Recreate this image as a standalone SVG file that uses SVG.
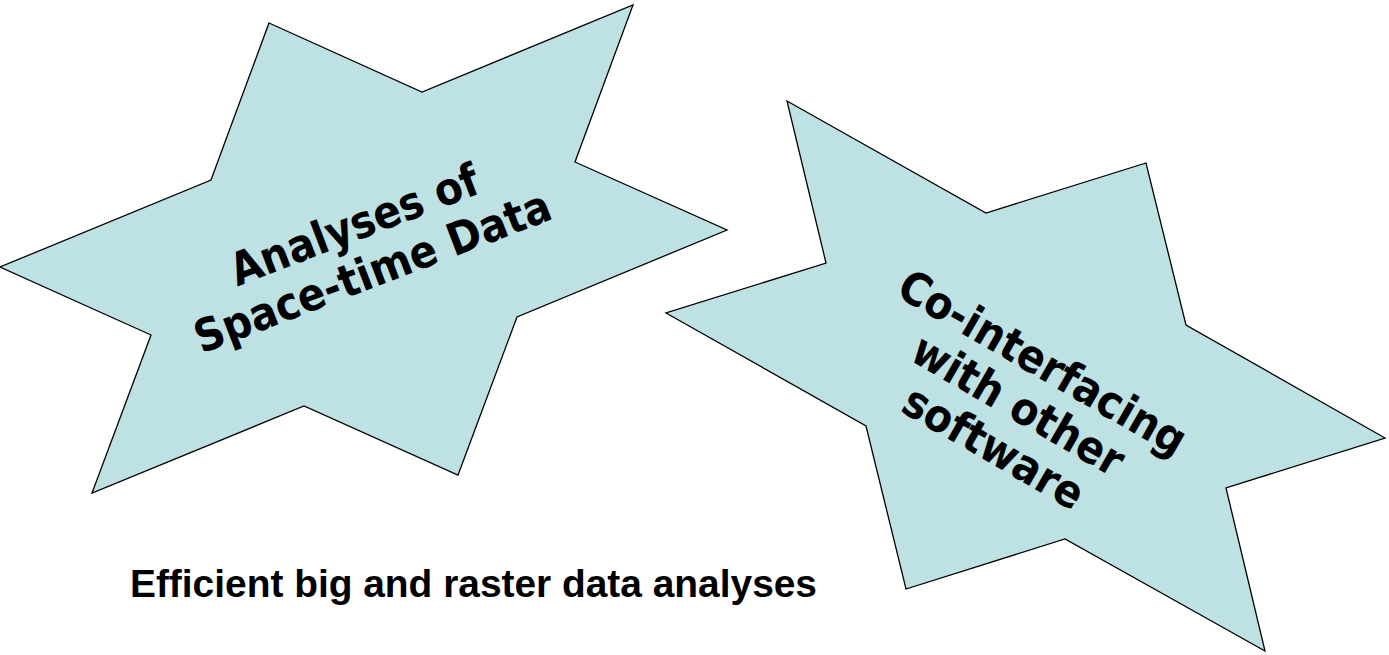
<svg xmlns="http://www.w3.org/2000/svg" width="1389" height="655" viewBox="0 0 1389 655">
<style>
.star{fill:#bee1e3;stroke:#000;stroke-width:1.3;stroke-linejoin:miter}
.lbl{font-family:"DejaVu Sans Condensed","DejaVu Sans",Verdana,sans-serif;font-stretch:condensed;font-weight:bold;font-size:45px;fill:#000;text-anchor:middle}
.cap{font-family:"Liberation Sans",Arial,sans-serif;font-weight:bold;font-size:38px;fill:#000}
</style>
<rect width="1389" height="655" fill="#fff"/>
<g id="star-analyses">
<polygon class="star" points="269,23 422,92 633,5 575,162 727,230 517,317 458,475 304,406 92,493 151,335 0,267 211,180"/>
<g transform="translate(378,286) rotate(-21)">
<text class="lbl" x="0" y="-50">Analyses of</text>
<text class="lbl" x="0" y="0">Space-time Data</text>
</g>
</g>
<g id="star-cointerfacing">
<polygon class="star" points="787,101 986,213 1146,163 1186,325 1385,438 1226,488 1265,651 1065,539 906,589 866,426 666,313 826,263"/>
<g transform="translate(1035,376) rotate(30)">
<text class="lbl" x="0" y="0">Co-interfacing</text>
<text class="lbl" x="0" y="49">with other</text>
<text class="lbl" x="0" y="98">software</text>
</g>
</g>
<g id="caption">
<text class="cap" x="130" y="597" textLength="687" lengthAdjust="spacingAndGlyphs">Efficient big and raster data analyses</text>
</g>
<g id="connectors"></g>
</svg>
